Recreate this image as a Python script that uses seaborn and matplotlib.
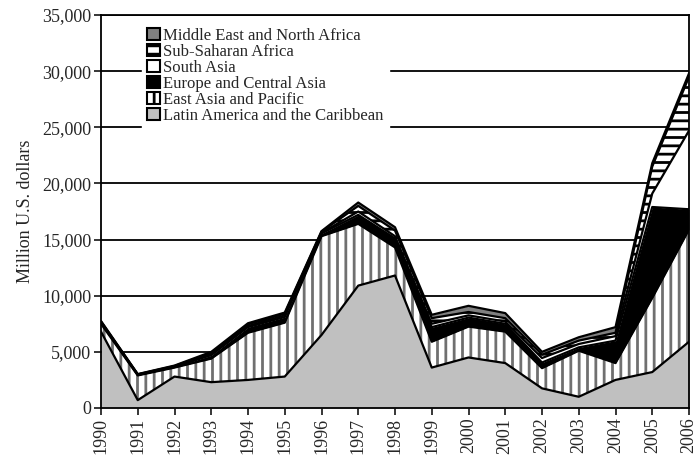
import numpy as np
import pandas as pd
import matplotlib
matplotlib.use("Agg")
import matplotlib.pyplot as plt
import seaborn as sns
from matplotlib.patches import Patch
from matplotlib.ticker import FuncFormatter

years = list(range(1990, 2007))
latin_america = [6800, 700, 2800, 2300, 2500, 2800, 6500, 10900, 11800, 3600, 4500, 4000, 1750, 1000, 2500, 3200, 5900]
east_asia = [700, 2200, 800, 2100, 4200, 4800, 8800, 5500, 2500, 2300, 2750, 2800, 1800, 4100, 1500, 6600, 10000]
europe_ca = [100, 50, 60, 300, 500, 500, 250, 800, 800, 1300, 800, 700, 500, 300, 2000, 8100, 1800]
south_asia = [50, 30, 40, 100, 100, 150, 50, 300, 200, 300, 200, 200, 400, 300, 400, 1200, 7000]
sub_saharan = [50, 20, 40, 100, 150, 150, 100, 500, 500, 500, 300, 300, 300, 300, 300, 2400, 4800]
mena = [50, 20, 40, 100, 100, 100, 50, 300, 300, 300, 550, 450, 250, 300, 500, 300, 300]

names = ["Latin America and the Caribbean", "East Asia and Pacific",
         "Europe and Central Asia", "South Asia", "Sub-Saharan Africa",
         "Middle East and North Africa"]
series = [latin_america, east_asia, europe_ca, south_asia, sub_saharan, mena]

sns.set_style("white")
plt.rcParams['font.family'] = ['Liberation Serif', 'DejaVu Serif']
plt.rcParams['hatch.linewidth'] = 2.0

fig = plt.figure(figsize=(6.94, 4.58), dpi=100)
ax = fig.add_axes([101/694, 1-408/458, (689-101)/694, (408-15)/458])

styles = [
    dict(facecolor="#c0c0c0", hatch=None, hcolor="black"),
    dict(facecolor="white", hatch="||", hcolor="#707070"),
    dict(facecolor="black", hatch=None, hcolor="black"),
    dict(facecolor="white", hatch=None, hcolor="black"),
    dict(facecolor="white", hatch="--", hcolor="black"),
    dict(facecolor="#808080", hatch=None, hcolor="black"),
]

df = pd.DataFrame({n: s for n, s in zip(names, series)}, index=years)
cum = df.cumsum(axis=1)

# horizontal gridlines behind
for yv in range(5000, 35001, 5000):
    ax.axhline(yv, color="black", lw=1.3, zorder=0)

lower = np.zeros(len(years))
for i, n in enumerate(names):
    upper = cum[n].values
    st = styles[i]
    ax.fill_between(years, lower, upper, facecolor=st["facecolor"],
                    edgecolor=st["hcolor"], hatch=st["hatch"], lw=0, zorder=2)
    lower = upper

# boundary lines via seaborn
long = cum.reset_index().melt(id_vars="index", var_name="series", value_name="cum")
long = long.rename(columns={"index": "year"})
for n in names:
    sub = long[long["series"] == n]
    sns.lineplot(data=sub, x="year", y="cum", color="black", lw=1.6, ax=ax,
                 zorder=3, legend=False)

ax.set_xlim(1990, 2006)
ax.set_ylim(0, 35000)
ax.set_xticks(years)
ax.set_xticklabels([str(y) for y in years], rotation=90, fontsize=13)
ax.set_yticks(range(0, 35001, 5000))
ax.yaxis.set_major_formatter(FuncFormatter(lambda v, p: f"{int(v):,}"))
ax.tick_params(axis="y", labelsize=13, direction="out", length=5, width=1.3, left=True, pad=2)
ax.tick_params(axis="x", direction="out", length=5, width=1.3, bottom=True, pad=2)
ax.set_xlabel("")
ax.set_ylabel("Million U.S. dollars", fontsize=13, labelpad=6)
for s in ax.spines.values():
    s.set_color("black")
    s.set_linewidth(1.3)
    s.set_zorder(5)

handles = []
for i in reversed(range(len(names))):
    st = styles[i]
    handles.append(Patch(facecolor=st["facecolor"], edgecolor="black",
                         hatch=st["hatch"], lw=1.5, label=names[i]))
leg = ax.legend(handles=handles, loc="upper left", bbox_to_anchor=(0.062, 0.992),
                frameon=True, fontsize=12, handlelength=0.75, handleheight=0.75,
                handletextpad=0.2, labelspacing=0.0, borderpad=0.3, borderaxespad=0.3,
                fancybox=False)
leg.get_frame().set_edgecolor("white")
leg.get_frame().set_facecolor("white")
leg.get_frame().set_alpha(1)
leg.set_zorder(4)

fig.savefig("out.png", dpi=100)
